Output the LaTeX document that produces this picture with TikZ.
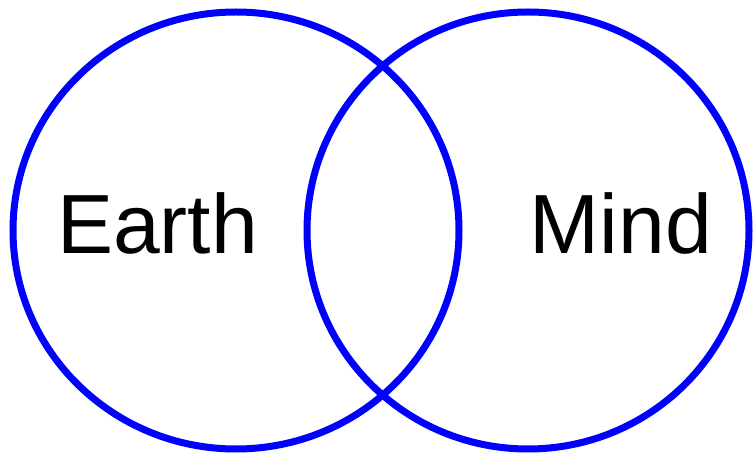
\documentclass[tikz,border=0pt]{standalone}
\usepackage{fontspec}
\setmainfont{Liberation Sans}
\begin{document}
\begin{tikzpicture}[x=1pt,y=-1pt,
  ring/.style={draw={rgb,255:red,0;green,0;blue,255},line width=7pt},
  lbl/.style={font=\fontsize{84}{84}\selectfont,inner sep=0pt,anchor=base}]
\useasboundingbox (0,0) rectangle (755,454);
\draw[ring] (236,230.5) ellipse [x radius=223,y radius=218.5];
\draw[ring] (528,230.5) ellipse [x radius=221,y radius=218.5];
\node[lbl] (earth) at (157.5,254) {Earth};
\node[lbl] (mind) at (621,254) {Mind};
\end{tikzpicture}
\end{document}
